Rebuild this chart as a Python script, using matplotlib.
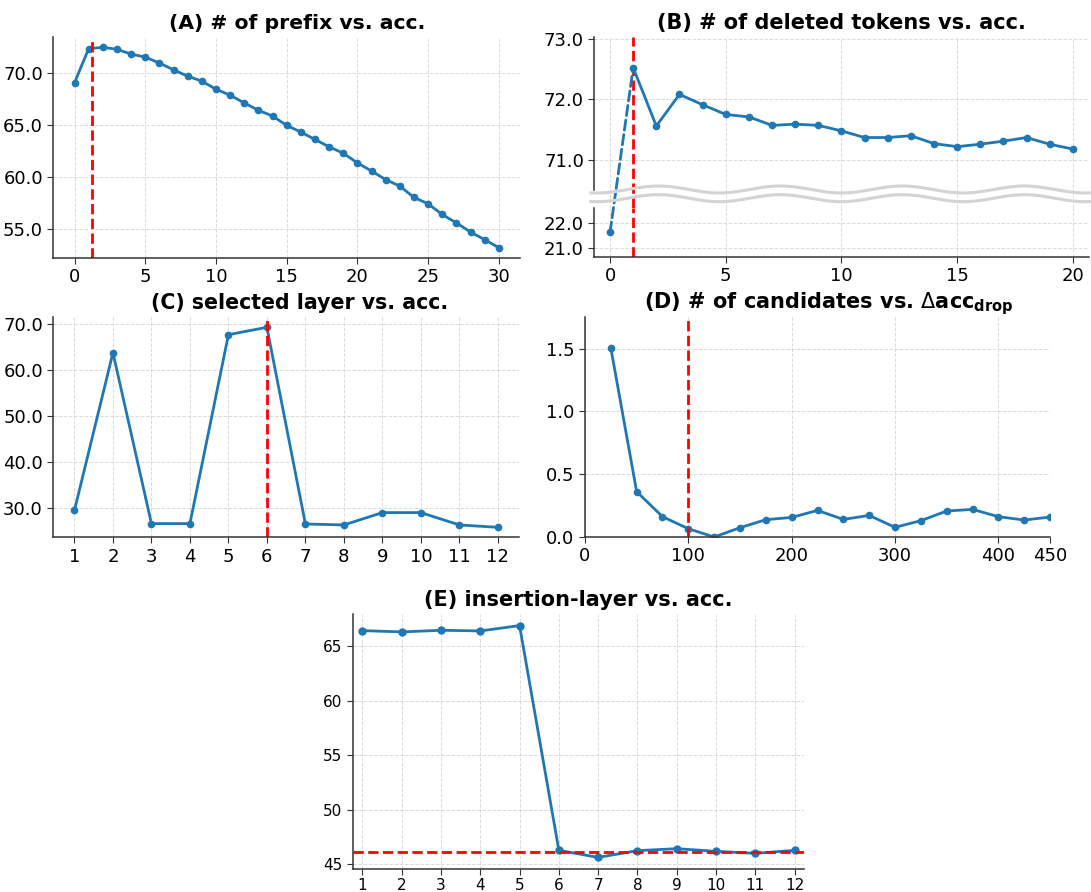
import numpy as np
import matplotlib
matplotlib.use('Agg')
import matplotlib.pyplot as plt
from matplotlib.lines import Line2D
from matplotlib.patches import ConnectionPatch
from matplotlib.ticker import FormatStrFormatter

# (A) number of prefix tokens
a_x = list(range(31))
a_acc = [69.07, 72.35, 72.48, 72.29, 71.83, 71.54, 70.97, 70.32, 69.71, 69.23,
         68.46, 67.88, 67.14, 66.43, 65.88, 64.98, 64.34, 63.63, 62.92, 62.31,
         61.37, 60.60, 59.77, 59.15, 58.06, 57.45, 56.42, 55.61, 54.74, 54.00, 53.23]
a_best = 1.27

# (B) number of deleted tokens
b_x = list(range(21))
b_acc = [21.64, 72.52, 71.56, 72.08, 71.91, 71.75, 71.71, 71.57, 71.59, 71.57,
         71.48, 71.37, 71.37, 71.40, 71.27, 71.22, 71.26, 71.31, 71.37, 71.26, 71.18]
b_best = 1

# (C) selected layer
c_x = list(range(1, 13))
c_acc = [29.57, 63.77, 26.67, 26.67, 67.68, 69.28, 26.59, 26.38, 29.06, 29.06, 26.38, 25.87]
c_best = 6

# (D) number of candidates
d_x = list(range(25, 451, 25))
d_drop = [1.505, 0.361, 0.162, 0.066, 0.0, 0.074, 0.138, 0.156, 0.212,
          0.140, 0.172, 0.077, 0.130, 0.207, 0.220, 0.162, 0.135, 0.159]
d_best = 100

# (E) insertion layer
e_x = list(range(1, 13))
e_acc = [66.44, 66.32, 66.47, 66.41, 66.90, 46.29, 45.64, 46.26, 46.44, 46.20, 46.01, 46.29]
e_base = 46.13

W, H = 1091, 892
fig = plt.figure(figsize=(W / 100, H / 100), dpi=100)


def box(l, t, r, b):
    return [l / W, 1 - b / H, (r - l) / W, (b - t) / H]


def style(ax, fs=13):
    ax.spines['top'].set_visible(False)
    ax.spines['right'].set_visible(False)
    for s in ['left', 'bottom']:
        ax.spines[s].set_color('#333333')
        ax.spines[s].set_linewidth(1.1)
    ax.tick_params(labelsize=fs, length=4, color='#333333')
    ax.grid(True, linestyle='--', color='#cccccc', linewidth=0.7, alpha=0.7)
    ax.set_axisbelow(True)


line_kw = dict(color='C0', marker='o', markersize=4.5, linewidth=2)
red_kw = dict(color='red', linestyle='--', linewidth=2)
title_kw = dict(fontsize=15, fontweight='bold')

# A
ax = fig.add_axes(box(53.3, 37.3, 520, 257.7))
style(ax)
ax.plot(a_x, a_acc, **line_kw)
ax.axvline(a_best, **red_kw)
ax.yaxis.set_major_formatter(FormatStrFormatter('%.1f'))
ax.set_title('(A) # of prefix vs. acc.', x=0.523, fontsize=14.7, fontweight='bold')

# B (broken y axis)
ax_top = fig.add_axes(box(594.3, 37.3, 1089, 208))
ax_bot = fig.add_axes(box(594.3, 208.3, 1089, 256.7))
for a in (ax_top, ax_bot):
    style(a)
    a.set_xlim(-0.68, 20.7)
    a.set_xticks([0, 5, 10, 15, 20])
    a.axvline(b_best, **red_kw)
    a.yaxis.set_major_formatter(FormatStrFormatter('%.1f'))
ax_top.plot(b_x[1:], b_acc[1:], **line_kw)
ax_top.set_ylim(70.21, 73.02)
ax_top.set_yticks([71, 72, 73])
ax_top.spines['bottom'].set_visible(False)
ax_top.spines['left'].set_bounds(70.5, 73.02)
ax_top.tick_params(axis='x', bottom=False, labelbottom=False)
ax_bot.plot(b_x[:1], b_acc[:1], linestyle='none', color='C0', marker='o', markersize=4.5)
ax_bot.set_ylim(20.66, 22.6)
ax_bot.set_yticks([21, 22])
ax_top.set_title('(B) # of deleted tokens vs. acc.', **title_kw)
con = ConnectionPatch(xyA=(b_x[0], b_acc[0]), coordsA=ax_bot.transData,
                      xyB=(b_x[1], b_acc[1]), coordsB=ax_top.transData,
                      color='C0', linestyle='--', linewidth=2, zorder=3)
fig.add_artist(con)
# wavy break marks
wx = np.linspace(591, W, 600)
for yc in (189.5, 198.2):
    wy = yc - 3.5 * np.cos(2 * np.pi * (wx - 658.3) / 122)
    fig.add_artist(Line2D(wx / W, 1 - wy / H, transform=fig.transFigure,
                          color='#d3d3d3', linewidth=2.2, zorder=5))

# C
ax = fig.add_axes(box(53.3, 317.3, 519, 537.3))
style(ax)
ax.plot(c_x, c_acc, **line_kw)
ax.axvline(c_best, **red_kw)
ax.set_xticks(c_x)
ax.yaxis.set_major_formatter(FormatStrFormatter('%.1f'))
ax.set_title('(C) selected layer vs. acc.', x=0.528, fontsize=14.8, fontweight='bold')

# D
ax = fig.add_axes(box(585, 317.3, 1050, 537))
style(ax)
ax.plot(d_x, d_drop, **line_kw)
ax.axvline(d_best, **red_kw)
ax.set_xlim(0, 450)
ax.set_ylim(0, 1.75)
ax.set_xticks([0, 100, 200, 300, 400, 450])
ax.set_yticks([0, 0.5, 1.0, 1.5])
ax.yaxis.set_major_formatter(FormatStrFormatter('%.1f'))
ax.set_title(r'(D) # of candidates vs. $\Delta\mathbf{acc}_{\mathbf{drop}}$', x=0.525, **title_kw)

# E
ax = fig.add_axes(box(353, 614, 804, 869))
style(ax, fs=11)
ax.tick_params(axis='x', pad=2.5)
ax.plot(e_x, e_acc, color='C0', marker='o', markersize=5, linewidth=2)
ax.axhline(e_base, **red_kw)
ax.set_xlim(0.76, 12.24)
ax.set_xticks(e_x)
ax.set_title('(E) insertion-layer vs. acc.', **title_kw)

fig.savefig('out.png', dpi=100)
